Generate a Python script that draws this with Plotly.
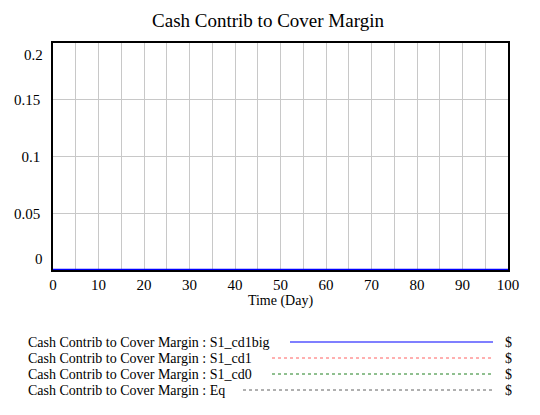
import plotly.graph_objects as go

# simulation output (all runs stay at zero)
time_day = [0, 10, 20, 30, 40, 50, 60, 70, 80, 90, 100]
s1_cd1big = [0, 0, 0, 0, 0, 0, 0, 0, 0, 0, 0]
s1_cd1 = [0, 0, 0, 0, 0, 0, 0, 0, 0, 0, 0]
s1_cd0 = [0, 0, 0, 0, 0, 0, 0, 0, 0, 0, 0]
eq = [0, 0, 0, 0, 0, 0, 0, 0, 0, 0, 0]

run_names = ["S1_cd1big", "S1_cd1", "S1_cd0", "Eq"]
run_values = [s1_cd1big, s1_cd1, s1_cd0, eq]
run_colors = ["#0000ff", "#ff6060", "#208020", "#606060"]
run_dash = ["solid", "dot", "dot", "dot"]

x_ticks = [0, 10, 20, 30, 40, 50, 60, 70, 80, 90, 100]
y_ticks = [0, 0.05, 0.1, 0.15, 0.2]
y_labels = ["0", "0.05", "0.1", "0.15", "0.2"]

FONT = "Liberation Serif"

# plot area in pixels
L, R, T, B = 53, 508, 43, 270
W, H = 540, 415


def px_x(px):
    return (px - L) / (R - L)


def px_y(py):
    return (B - py) / (B - T)


fig = go.Figure()

# draw in reverse so the blue run ends on top
for name, vals, col, dash in reversed(list(zip(run_names, run_values, run_colors, run_dash))):
    fig.add_trace(go.Scatter(
        x=time_day,
        y=vals,
        mode="lines",
        name=name,
        line={"color": col, "width": 2.5 if dash == "solid" else 1.5, "dash": dash},
        cliponaxis=False,
        showlegend=False
    ))

# end labels of the y axis sit inside the frame, as in Vensim
inner_text = {0: "", 0.2: ""}
tick_text = [inner_text.get(v, t) for v, t in zip(y_ticks, y_labels)]
for v, t in zip(y_ticks, y_labels):
    if v in inner_text:
        fig.add_annotation(
            x=0, y=v, xref="paper", yref="y",
            text=t, showarrow=False, xanchor="right", yanchor="middle",
            xshift=-8, yshift=11 if v == min(y_ticks) else -12,
            font={"family": FONT, "size": 15, "color": "black"}
        )

# legend drawn by hand, Vensim style
legend_rows = [342, 358, 374, 390]
line_starts = [290, 272, 272, 243]
for name, col, dash, row, start in zip(run_names, run_colors, run_dash, legend_rows, line_starts):
    fig.add_annotation(
        x=px_x(26), y=px_y(row), xref="paper", yref="paper",
        text=f"Cash Contrib to Cover Margin : {name}",
        showarrow=False, xanchor="left", yanchor="middle",
        font={"family": FONT, "size": 14, "color": "black"}
    )
    fig.add_shape(
        type="line", xref="paper", yref="paper",
        x0=px_x(start), x1=px_x(493), y0=px_y(row), y1=px_y(row),
        line={"color": col, "width": 1.2 if dash == "solid" else 1, "dash": dash}
    )
    fig.add_annotation(
        x=px_x(508), y=px_y(row), xref="paper", yref="paper",
        text="$", showarrow=False, xanchor="center", yanchor="middle",
        font={"family": FONT, "size": 14, "color": "black"}
    )

fig.update_layout(
    width=W,
    height=H,
    margin={"l": L, "r": W - R, "t": T, "b": H - B, "autoexpand": False},
    paper_bgcolor="white",
    plot_bgcolor="white",
    font={"family": FONT, "size": 15, "color": "black"},
    title={
        "text": "Cash Contrib to Cover Margin",
        "x": 268 / W, "xanchor": "center",
        "y": 1 - 20 / H, "yanchor": "middle",
        "font": {"family": FONT, "size": 19, "color": "black"}
    },
    xaxis={
        "range": [0, 100],
        "tickvals": x_ticks,
        "showgrid": True,
        "gridcolor": "#c8c8c8",
        "gridwidth": 1,
        "minor": {"dtick": 5, "tick0": 0, "showgrid": True, "gridcolor": "#c8c8c8", "gridwidth": 1},
        "showline": True,
        "linecolor": "black",
        "linewidth": 1.5,
        "mirror": True,
        "zeroline": False,
        "ticks": "",
        "automargin": False,
        "layer": "below traces",
        "tickfont": {"family": FONT, "size": 15},
        "title": {"text": "Time (Day)", "font": {"family": FONT, "size": 14}, "standoff": 0}
    },
    yaxis={
        "range": [0, 0.2],
        "tickvals": y_ticks,
        "ticktext": tick_text,
        "showgrid": True,
        "gridcolor": "#c8c8c8",
        "gridwidth": 1,
        "showline": True,
        "linecolor": "black",
        "linewidth": 1.5,
        "mirror": True,
        "zeroline": False,
        "ticks": "",
        "automargin": False,
        "layer": "below traces",
        "ticklabelstandoff": 8,
        "tickfont": {"family": FONT, "size": 15}
    }
)

# page body has a default margin; drop it so the figure sits at 0,0
fig.write_html(
    "out.html",
    config={"displayModeBar": False},
    post_script="document.body.style.margin = '0';"
)
